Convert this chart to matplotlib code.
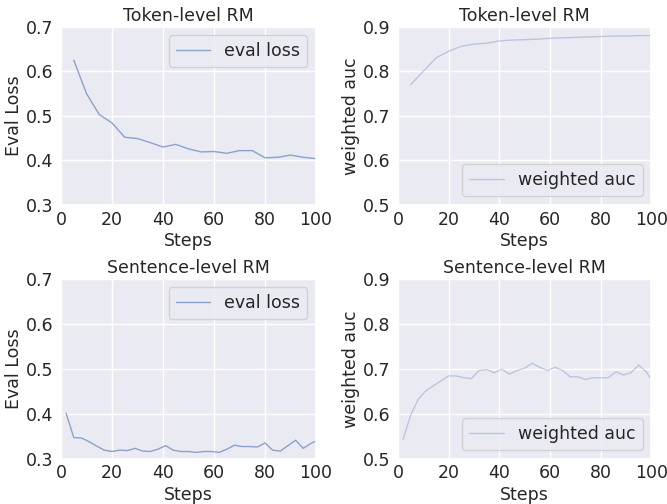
import matplotlib
matplotlib.use("Agg")
import matplotlib.pyplot as plt
import seaborn as sns

sns.set_theme(style="darkgrid")
plt.rcParams['font.family'] = ['DejaVu Sans']

tok_steps = [5, 10, 15, 20, 25, 30, 35, 40, 45, 50, 55, 60, 65, 70, 75, 80, 85, 90, 95, 100]
tok_loss = [0.625, 0.550, 0.503, 0.484, 0.452, 0.449, 0.440, 0.430, 0.436, 0.426,
            0.419, 0.420, 0.416, 0.422, 0.422, 0.406, 0.407, 0.412, 0.407, 0.404]
tok_auc = [0.770, 0.800, 0.830, 0.845, 0.856, 0.861, 0.863, 0.868, 0.870, 0.871,
           0.872, 0.874, 0.875, 0.876, 0.877, 0.878, 0.879, 0.879, 0.880, 0.880]

sen_steps = [2, 5, 8, 11, 14, 17, 20, 23, 26, 29, 32, 35, 38, 41, 44, 47, 50,
             53, 56, 59, 62, 65, 68, 71, 74, 77, 80, 83, 86, 89, 92, 95, 98, 101]
sen_loss = [0.401, 0.347, 0.346, 0.338, 0.328, 0.319, 0.316, 0.319, 0.318, 0.323,
            0.317, 0.316, 0.321, 0.329, 0.319, 0.316, 0.316, 0.314, 0.316, 0.316,
            0.314, 0.321, 0.330, 0.327, 0.327, 0.326, 0.335, 0.319, 0.317, 0.329,
            0.341, 0.323, 0.334, 0.342]
sen_auc = [0.543, 0.597, 0.632, 0.651, 0.662, 0.673, 0.684, 0.684, 0.680, 0.678,
           0.696, 0.698, 0.691, 0.699, 0.688, 0.696, 0.701, 0.712, 0.703, 0.696,
           0.703, 0.696, 0.682, 0.682, 0.676, 0.680, 0.680, 0.680, 0.693, 0.686,
           0.691, 0.708, 0.693, 0.666]

base = "#4C72B0"
fs = 12.5

fig = plt.figure(figsize=(6.67, 5.04), dpi=100)
W, H = 667, 504

def mkax(l, r, t, b):
    return fig.add_axes([l / W, 1 - b / H, (r - l) / W, (b - t) / H])

axes = [
    mkax(61, 316, 26.7, 205),
    mkax(398, 651.3, 26.7, 205),
    mkax(61, 316, 278.7, 458.7),
    mkax(398, 651.3, 278.7, 458.7),
]

panels = [
    (tok_steps, tok_loss, "eval loss", "Eval Loss", "Token-level RM", (0.3, 0.7), 0.6, "upper right"),
    (tok_steps, tok_auc, "weighted auc", "weighted auc", "Token-level RM", (0.5, 0.9), 0.3, "lower right"),
    (sen_steps, sen_loss, "eval loss", "Eval Loss", "Sentence-level RM", (0.3, 0.7), 0.6, "upper right"),
    (sen_steps, sen_auc, "weighted auc", "weighted auc", "Sentence-level RM", (0.5, 0.9), 0.3, "lower right"),
]

for ax, (x, y, lab, ylab, title, ylim, alpha, loc) in zip(axes, panels):
    ax.plot(x, y, color=base, alpha=alpha, lw=1.0, label=lab)
    ax.set_xlim(0, 100)
    ax.set_ylim(*ylim)
    ax.set_xticks([0, 20, 40, 60, 80, 100])
    yt = [round(ylim[0] + 0.1 * i, 1) for i in range(5)]
    ax.set_yticks(yt)
    ax.tick_params(axis='x', labelsize=fs, length=0, pad=4)
    ax.tick_params(axis='y', labelsize=fs, length=0, pad=5.5)
    ax.set_xlabel("Steps", fontsize=fs, labelpad=2.5)
    ax.set_ylabel(ylab, fontsize=fs, labelpad=2)
    ax.set_title(title, fontsize=fs, pad=4)
    ax.legend(loc=loc, fontsize=fs)

fig.savefig("out.png", dpi=100)
